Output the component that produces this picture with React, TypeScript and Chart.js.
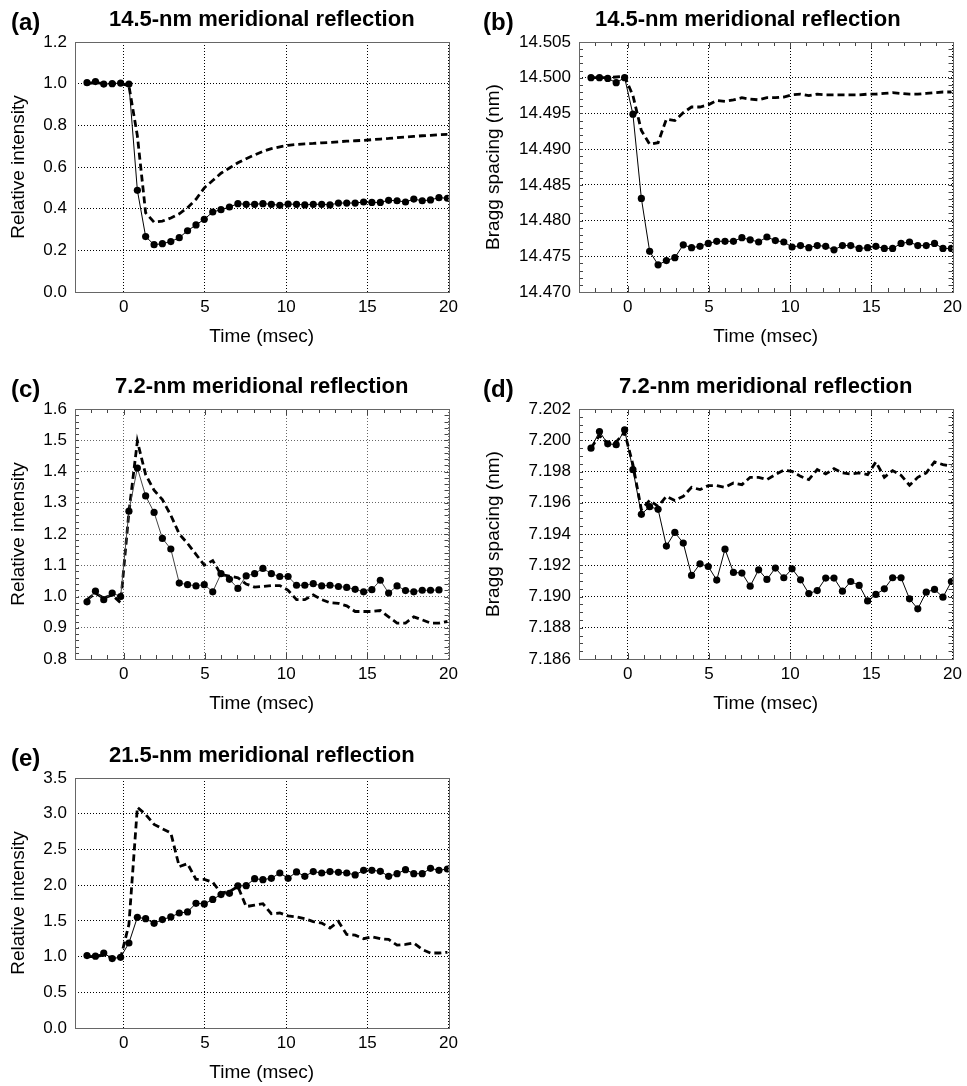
import React, { useEffect, useRef } from "react";
import { Chart, registerables } from "chart.js";

Chart.register(...registerables);

const TIME = [-2.26, -1.74, -1.23, -0.71, -0.19, 0.32, 0.84, 1.35, 1.87, 2.38, 2.9, 3.42, 3.93, 4.45, 4.96, 5.48, 5.99, 6.51, 7.03, 7.54, 8.06, 8.57, 9.09, 9.61, 10.12, 10.64, 11.15, 11.67, 12.19, 12.7, 13.22, 13.73, 14.25, 14.77, 15.28, 15.8, 16.31, 16.83, 17.35, 17.86, 18.38, 18.89, 19.41, 19.93];

const X_TICKS = [0, 5, 10, 15, 20];

const A_SOLID = [1.005, 1.01, 0.998, 1.0, 1.003, 0.998, 0.488, 0.266, 0.227, 0.232, 0.242, 0.261, 0.294, 0.322, 0.349, 0.384, 0.395, 0.408, 0.424, 0.421, 0.421, 0.424, 0.421, 0.416, 0.422, 0.421, 0.418, 0.421, 0.421, 0.418, 0.427, 0.427, 0.427, 0.432, 0.43, 0.43, 0.44, 0.438, 0.432, 0.446, 0.438, 0.442, 0.453, 0.45];
const A_DASHED = [1.0, 1.005, 1.0, 1.0, 1.0, 0.99, 0.75, 0.38, 0.335, 0.34, 0.355, 0.375, 0.405, 0.445, 0.5, 0.535, 0.57, 0.595, 0.62, 0.64, 0.658, 0.675, 0.688, 0.697, 0.704, 0.708, 0.711, 0.713, 0.716, 0.718, 0.721, 0.724, 0.726, 0.728, 0.731, 0.734, 0.737, 0.741, 0.744, 0.747, 0.75, 0.752, 0.755, 0.757];
const A_Y_TICKS = [0, 0.2, 0.4, 0.6, 0.8, 1.0, 1.2];

const B_SOLID = [14.5, 14.5, 14.4999, 14.4993, 14.5, 14.4949, 14.4831, 14.4757, 14.4738, 14.4744, 14.4748, 14.4766, 14.4762, 14.4764, 14.4768, 14.4771, 14.4771, 14.4771, 14.4776, 14.4773, 14.477, 14.4777, 14.4772, 14.477, 14.4763, 14.4765, 14.4762, 14.4765, 14.4764, 14.4759, 14.4765, 14.4765, 14.4761, 14.4762, 14.4764, 14.4761, 14.4761, 14.4768, 14.477, 14.4765, 14.4765, 14.4768, 14.4761, 14.4761];
const B_DASHED = [14.5, 14.5, 14.5, 14.5001, 14.5002, 14.4975, 14.4926, 14.4907, 14.4909, 14.4942, 14.494, 14.4951, 14.4959, 14.4959, 14.4962, 14.4968, 14.4967, 14.4969, 14.4972, 14.497, 14.4969, 14.4972, 14.4972, 14.4973, 14.4976, 14.4977, 14.4975, 14.4977, 14.4976, 14.4976, 14.4976, 14.4976, 14.4976, 14.4977, 14.4977, 14.4978, 14.4979, 14.4978, 14.4977, 14.4977, 14.4978, 14.4979, 14.498, 14.498];
const B_Y_TICKS = [14.47, 14.475, 14.48, 14.485, 14.49, 14.495, 14.5, 14.505];

const C_SOLID = [0.983, 1.017, 0.99, 1.011, 1.0, 1.273, 1.411, 1.322, 1.269, 1.186, 1.152, 1.043, 1.038, 1.034, 1.038, 1.015, 1.073, 1.055, 1.026, 1.066, 1.073, 1.09, 1.073, 1.064, 1.064, 1.036, 1.036, 1.041, 1.034, 1.036, 1.032, 1.029, 1.023, 1.015, 1.022, 1.052, 1.011, 1.034, 1.019, 1.015, 1.02, 1.02, 1.021];
const C_DASHED = [0.99, 1.01, 0.995, 1.005, 0.98, 1.27, 1.497, 1.39, 1.34, 1.31, 1.26, 1.2, 1.17, 1.135, 1.1, 1.115, 1.07, 1.065, 1.06, 1.04, 1.03, 1.032, 1.035, 1.035, 1.02, 0.99, 0.99, 1.005, 0.99, 0.98, 0.978, 0.97, 0.952, 0.952, 0.952, 0.955, 0.935, 0.915, 0.915, 0.935, 0.925, 0.915, 0.915, 0.92];
const C_Y_TICKS = [0.8, 0.9, 1.0, 1.1, 1.2, 1.3, 1.4, 1.5, 1.6];

const D_SOLID = [7.19949, 7.20056, 7.19977, 7.19972, 7.20066, 7.19812, 7.19526, 7.19575, 7.19558, 7.19323, 7.1941, 7.19342, 7.19135, 7.19209, 7.19192, 7.19105, 7.19303, 7.19154, 7.1915, 7.19066, 7.19171, 7.19109, 7.19182, 7.1912, 7.19177, 7.19107, 7.19019, 7.19038, 7.19118, 7.19118, 7.19034, 7.19096, 7.19071, 7.18972, 7.19013, 7.19049, 7.1912, 7.1912, 7.18985, 7.18921, 7.19028, 7.19045, 7.18996, 7.19096];
const D_DASHED = [7.1995, 7.2003, 7.1998, 7.1999, 7.2005, 7.19844, 7.19556, 7.19615, 7.19577, 7.19641, 7.19615, 7.19641, 7.19699, 7.19684, 7.1971, 7.1971, 7.19699, 7.19726, 7.19716, 7.19763, 7.19763, 7.19748, 7.1978, 7.19808, 7.19801, 7.19769, 7.19748, 7.19812, 7.19784, 7.19818, 7.19791, 7.19784, 7.19791, 7.1978, 7.19861, 7.19763, 7.19806, 7.19776, 7.19712, 7.19763, 7.19791, 7.19861, 7.19844, 7.19833];
const D_Y_TICKS = [7.186, 7.188, 7.19, 7.192, 7.194, 7.196, 7.198, 7.2, 7.202];

const E_SOLID = [1.014, 1.005, 1.05, 0.972, 0.99, 1.19, 1.55, 1.53, 1.466, 1.518, 1.555, 1.61, 1.625, 1.746, 1.737, 1.8, 1.868, 1.886, 1.99, 1.993, 2.09, 2.077, 2.096, 2.17, 2.096, 2.185, 2.124, 2.19, 2.17, 2.19, 2.18, 2.17, 2.143, 2.208, 2.208, 2.194, 2.124, 2.16, 2.217, 2.16, 2.16, 2.236, 2.208, 2.226];
const E_DASHED = [1.0, 1.0, 1.02, 0.98, 0.98, 1.45, 3.09, 2.99, 2.85, 2.79, 2.73, 2.26, 2.3, 2.08, 2.08, 2.04, 1.89, 1.91, 1.98, 1.7, 1.72, 1.74, 1.6, 1.61, 1.57, 1.555, 1.53, 1.49, 1.47, 1.4, 1.49, 1.31, 1.3, 1.25, 1.275, 1.25, 1.24, 1.16, 1.17, 1.19, 1.1, 1.05, 1.05, 1.06];
const E_Y_TICKS = [0, 0.5, 1.0, 1.5, 2.0, 2.5, 3.0, 3.5];

const FONT = '"Liberation Sans", Arial, Helvetica, sans-serif';
const REL = "Relative intensity";
const BRAGG = "Bragg spacing (nm)";

const COL = [
  { left: 0, width: 463, yWidth: 75, yTitlePad: 7 },
  { left: 480, width: 487, yWidth: 99, yTitlePad: 2 },
];
const ROW_TOP = [0, 367, 736];
const CANVAS_H = 350;

const PANELS = [
  { letter: "(a)", title: "14.5-nm meridional reflection", yTitle: REL, solid: A_SOLID, dashed: A_DASHED, yTicks: A_Y_TICKS, dec: 1, col: 0, row: 0, minorY: 0, grid: "#000", lineColor: "#000", titleShift: 0 },
  { letter: "(b)", title: "14.5-nm meridional reflection", yTitle: BRAGG, solid: B_SOLID, dashed: B_DASHED, yTicks: B_Y_TICKS, dec: 3, col: 1, row: 0, minorY: 0.001, grid: "#000", lineColor: "#000", titleShift: -18 },
  { letter: "(c)", title: "7.2-nm meridional reflection", yTitle: REL, solid: C_SOLID, dashed: C_DASHED, yTicks: C_Y_TICKS, dec: 1, col: 0, row: 1, minorY: 0.02, grid: "#666", lineColor: "#444", titleShift: 0 },
  { letter: "(d)", title: "7.2-nm meridional reflection", yTitle: BRAGG, solid: D_SOLID, dashed: D_DASHED, yTicks: D_Y_TICKS, dec: 3, col: 1, row: 1, minorY: 0.0005, grid: "#000", lineColor: "#000", titleShift: 0 },
  { letter: "(e)", title: "21.5-nm meridional reflection", yTitle: REL, solid: E_SOLID, dashed: E_DASHED, yTicks: E_Y_TICKS, dec: 1, col: 0, row: 2, minorY: 0, grid: "#000", lineColor: "#000", titleShift: 0 },
];

function toPoints(values: number[]) {
  return values.map((v, i) => ({ x: TIME[i], y: v }));
}

function framePlugin(p: any) {
  return {
    id: "frameTicks",
    afterLayout(chart: any) {
      if (p.titleShift && chart.titleBlock) {
        chart.titleBlock.left += p.titleShift;
        chart.titleBlock.right += p.titleShift;
      }
    },
    beforeDatasetsDraw(chart: any) {
      const { ctx, chartArea, scales } = chart;
      const { left, right, top, bottom } = chartArea;
      ctx.save();
      ctx.setLineDash([]);
      ctx.lineWidth = 1;
      if (p.minorY) {
        ctx.strokeStyle = "#444";
        ctx.beginPath();
        const xs = scales.x;
        for (let v = -3; v <= 20; v += 1) {
          const px = Math.round(xs.getPixelForValue(v)) + 0.5;
          const len = v % 5 === 0 ? 6 : 4;
          ctx.moveTo(px, top);
          ctx.lineTo(px, top + len);
          ctx.moveTo(px, bottom);
          ctx.lineTo(px, bottom - len);
        }
        const ys = scales.y;
        const yMin = p.yTicks[0];
        const yMax = p.yTicks[p.yTicks.length - 1];
        const n = Math.round((yMax - yMin) / p.minorY);
        for (let k = 0; k <= n; k++) {
          const v = yMin + k * p.minorY;
          const py = Math.round(ys.getPixelForValue(v)) + 0.5;
          ctx.moveTo(left, py);
          ctx.lineTo(left + 4, py);
          ctx.moveTo(right, py);
          ctx.lineTo(right - 4, py);
        }
        ctx.stroke();
      }
      ctx.strokeStyle = "#666";
      ctx.strokeRect(Math.round(left) + 0.5, Math.round(top) + 0.5, Math.round(right - left), Math.round(bottom - top));
      ctx.restore();
    },
  };
}

function Panel({ p }: { p: any }) {
  const ref = useRef<HTMLCanvasElement | null>(null);
  const col = COL[p.col];
  const top = ROW_TOP[p.row];
  useEffect(() => {
    if (!ref.current) return;
    const yMin = p.yTicks[0];
    const yMax = p.yTicks[p.yTicks.length - 1];
    const chart = new Chart(ref.current, {
      type: "line",
      data: {
        datasets: [
          {
            data: toPoints(p.solid),
            borderColor: p.lineColor,
            borderWidth: 1,
            pointRadius: 3.6,
            pointBackgroundColor: "#000",
            pointBorderWidth: 0,
            tension: 0,
          },
          {
            data: toPoints(p.dashed),
            borderColor: "#000",
            borderWidth: 2.8,
            borderDash: [7, 4],
            pointRadius: 0,
            tension: 0,
          },
        ],
      },
      options: {
        animation: false,
        responsive: false,
        devicePixelRatio: 1,
        layout: { padding: { left: 0, right: col.width - col.yWidth - 377, top: 0, bottom: 0 } },
        plugins: {
          legend: { display: false },
          tooltip: { enabled: false },
          title: {
            display: true,
            text: p.title,
            fullSize: false,
            color: "#000",
            font: { family: FONT, size: 22, weight: "bold" },
            padding: { top: 6.8, bottom: 8.8 },
          },
        },
        scales: {
          x: {
            type: "linear",
            min: -3,
            max: 20,
            afterBuildTicks: (s: any) => {
              s.ticks = X_TICKS.map((v) => ({ value: v }));
            },
            afterFit: (s: any) => {
              s.height = 58;
            },
            ticks: { color: "#000", font: { family: FONT, size: 17 }, padding: 5, autoSkip: false, maxRotation: 0 },
            grid: { color: p.grid, lineWidth: 1, drawTicks: false },
            border: { display: false, dash: [1, 2] },
            title: {
              display: true,
              text: "Time (msec)",
              color: "#000",
              font: { family: FONT, size: 19 },
              padding: { top: 0, bottom: 2 },
            },
          },
          y: {
            type: "linear",
            min: yMin,
            max: yMax,
            afterBuildTicks: (s: any) => {
              s.ticks = p.yTicks.map((v: number) => ({ value: v }));
            },
            afterFit: (s: any) => {
              s.width = col.yWidth;
            },
            ticks: {
              color: "#000",
              font: { family: FONT, size: 17 },
              padding: 8,
              autoSkip: false,
              callback: (v: any) => Number(v).toFixed(p.dec),
            },
            grid: { color: p.grid, lineWidth: 1, drawTicks: false },
            border: { display: false, dash: [1, 2] },
            title: {
              display: true,
              text: p.yTitle,
              color: "#000",
              font: { family: FONT, size: 19 },
              padding: { top: col.yTitlePad, bottom: 0 },
            },
          },
        },
      },
      plugins: [framePlugin(p)],
    } as any);
    return () => chart.destroy();
  }, []);
  return (
    <>
      <canvas
        ref={ref}
        width={col.width}
        height={CANVAS_H}
        style={{ position: "absolute", left: col.left, top, width: col.width, height: CANVAS_H }}
      />
      <div
        style={{
          position: "absolute",
          left: col.left === 0 ? 11 : 483,
          top: top + 10,
          fontFamily: FONT,
          fontWeight: "bold",
          fontSize: 24,
          lineHeight: "24px",
          color: "#000",
        }}
      >
        {p.letter}
      </div>
    </>
  );
}

export default function App() {
  return (
    <div style={{ position: "absolute", left: 0, top: 0, width: 967, height: 1086, background: "#fff", overflow: "hidden" }}>
      {PANELS.map((p) => (
        <Panel key={p.letter} p={p} />
      ))}
    </div>
  );
}
